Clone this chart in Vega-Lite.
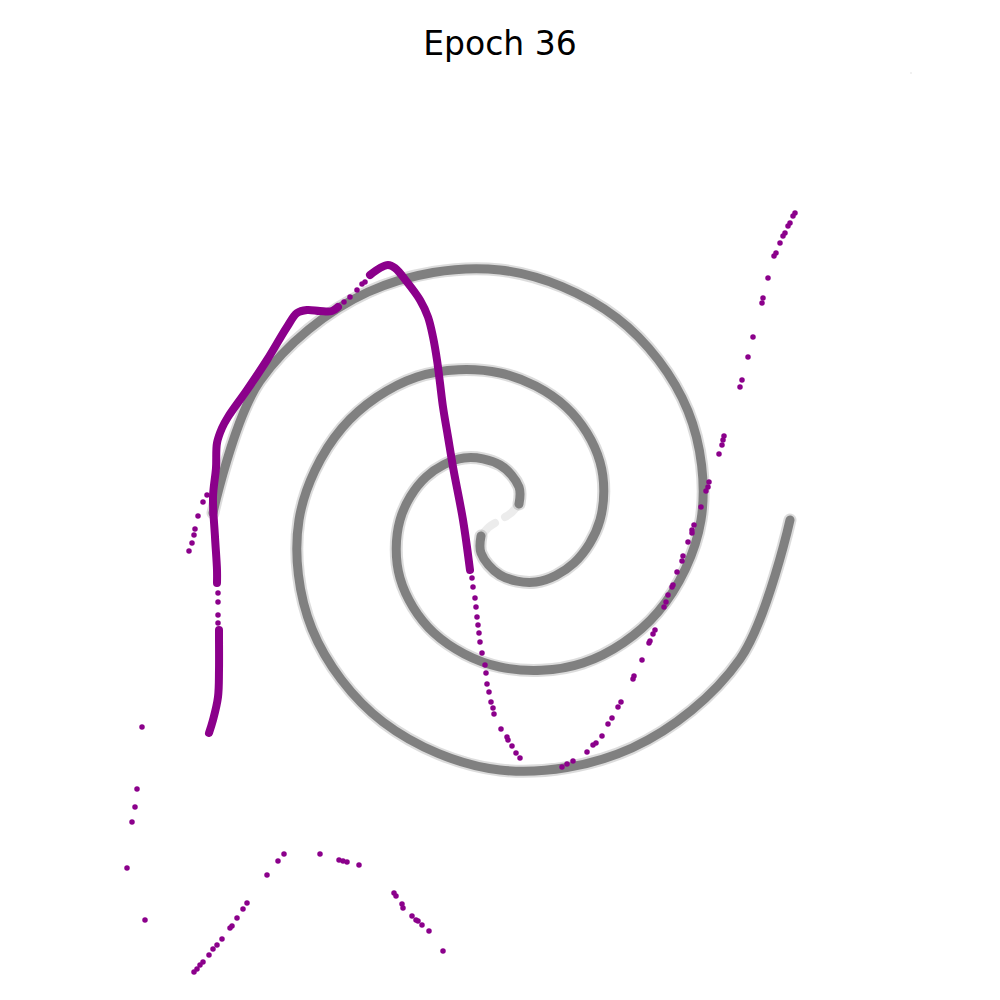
{
  "$schema": "https://vega.github.io/schema/vega-lite/v6.json",
  "width": 1000,
  "height": 1000,
  "padding": 0,
  "autosize": {"type": "none"},
  "background": "white",
  "config": {"view": {"stroke": null}},
  "title": {"text": "Epoch 36", "font": "DejaVu Sans", "fontSize": 33, "fontWeight": "normal", "color": "black", "anchor": "middle", "frame": "group", "baseline": "alphabetic", "offset": -56, "dy": 32},
  "datasets": {
    "spiral": [
      {"arm": 1, "i": 0, "x": 2.90, "y": -0.20}, {"arm": 1, "i": 1, "x": 2.40, "y": -1.59}, {"arm": 1, "i": 2, "x": 1.32, "y": -2.48},
      {"arm": 1, "i": 3, "x": 0.00, "y": -2.70}, {"arm": 1, "i": 4, "x": -1.17, "y": -2.22}, {"arm": 1, "i": 5, "x": -1.88, "y": -1.29},
      {"arm": 1, "i": 6, "x": -2.01, "y": -0.20}, {"arm": 1, "i": 7, "x": -1.58, "y": 0.72}, {"arm": 1, "i": 8, "x": -0.83, "y": 1.23},
      {"arm": 1, "i": 9, "x": 0.00, "y": 1.27}, {"arm": 1, "i": 10, "x": 0.66, "y": 0.93}, {"arm": 1, "i": 11, "x": 1.00, "y": 0.38},
      {"arm": 1, "i": 12, "x": 1.00, "y": -0.20}, {"arm": 1, "i": 13, "x": 0.74, "y": -0.63}, {"arm": 1, "i": 14, "x": 0.36, "y": -0.82},
      {"arm": 1, "i": 15, "x": 0.00, "y": -0.75}, {"arm": 1, "i": 16, "x": -0.19, "y": -0.53}, {"arm": 1, "i": 17, "x": -0.19, "y": -0.36},
      {"arm": 2, "i": 0, "x": -2.87, "y": -0.13}, {"arm": 2, "i": 1, "x": -2.40, "y": 1.19}, {"arm": 2, "i": 2, "x": -1.32, "y": 2.08},
      {"arm": 2, "i": 3, "x": 0.00, "y": 2.30}, {"arm": 2, "i": 4, "x": 1.17, "y": 1.82}, {"arm": 2, "i": 5, "x": 1.88, "y": 0.89},
      {"arm": 2, "i": 6, "x": 2.01, "y": -0.20}, {"arm": 2, "i": 7, "x": 1.58, "y": -1.12}, {"arm": 2, "i": 8, "x": 0.83, "y": -1.63},
      {"arm": 2, "i": 9, "x": 0.00, "y": -1.67}, {"arm": 2, "i": 10, "x": -0.66, "y": -1.33}, {"arm": 2, "i": 11, "x": -1.00, "y": -0.78},
      {"arm": 2, "i": 12, "x": -1.00, "y": -0.20}, {"arm": 2, "i": 13, "x": -0.74, "y": 0.23}, {"arm": 2, "i": 14, "x": -0.36, "y": 0.42},
      {"arm": 2, "i": 15, "x": 0.00, "y": 0.35}, {"arm": 2, "i": 16, "x": 0.19, "y": 0.13}, {"arm": 2, "i": 17, "x": 0.19, "y": -0.04}
    ],
    "spiralFaint": [
      {"arm": 1, "i": 0, "x": -0.19, "y": -0.36}, {"arm": 1, "i": 1, "x": -0.11, "y": -0.27}, {"arm": 1, "i": 2, "x": -0.05, "y": -0.23},
      {"arm": 2, "i": 0, "x": 0.19, "y": -0.04}, {"arm": 2, "i": 1, "x": 0.11, "y": -0.13}, {"arm": 2, "i": 2, "x": 0.05, "y": -0.17}
    ],
    "stray": [{"x": 4.11, "y": 4.27}],
    "dense": [
      {"seg": "a1", "i": 0, "x": -2.91, "y": -2.33}, {"seg": "a1", "i": 1, "x": -2.87, "y": -2.20}, {"seg": "a1", "i": 2, "x": -2.82, "y": -1.97},
      {"seg": "a1", "i": 3, "x": -2.81, "y": -1.70}, {"seg": "a1", "i": 4, "x": -2.81, "y": -1.37}, {"seg": "a1", "i": 5, "x": -2.81, "y": -1.30},
      {"seg": "a2", "i": 0, "x": -2.83, "y": -0.83}, {"seg": "a2", "i": 1, "x": -2.83, "y": -0.70}, {"seg": "a2", "i": 2, "x": -2.85, "y": -0.37},
      {"seg": "a2", "i": 3, "x": -2.87, "y": 0.03}, {"seg": "a2", "i": 4, "x": -2.84, "y": 0.32}, {"seg": "a2", "i": 5, "x": -2.83, "y": 0.57},
      {"seg": "a2", "i": 6, "x": -2.78, "y": 0.72}, {"seg": "a2", "i": 7, "x": -2.72, "y": 0.83}, {"seg": "a2", "i": 8, "x": -2.53, "y": 1.10},
      {"seg": "a2", "i": 9, "x": -2.33, "y": 1.40}, {"seg": "a2", "i": 10, "x": -2.13, "y": 1.73}, {"seg": "a2", "i": 11, "x": -2.03, "y": 1.87},
      {"seg": "a2", "i": 12, "x": -1.93, "y": 1.90}, {"seg": "a2", "i": 13, "x": -1.80, "y": 1.89}, {"seg": "a2", "i": 14, "x": -1.68, "y": 1.89},
      {"seg": "a2", "i": 15, "x": -1.62, "y": 1.93},
      {"seg": "a3", "i": 0, "x": -1.30, "y": 2.25}, {"seg": "a3", "i": 1, "x": -1.20, "y": 2.32}, {"seg": "a3", "i": 2, "x": -1.12, "y": 2.35},
      {"seg": "a3", "i": 3, "x": -1.05, "y": 2.32}, {"seg": "a3", "i": 4, "x": -0.93, "y": 2.18}, {"seg": "a3", "i": 5, "x": -0.80, "y": 2.00},
      {"seg": "a3", "i": 6, "x": -0.72, "y": 1.83}, {"seg": "a3", "i": 7, "x": -0.67, "y": 1.63}, {"seg": "a3", "i": 8, "x": -0.63, "y": 1.40},
      {"seg": "a3", "i": 9, "x": -0.60, "y": 1.17}, {"seg": "a3", "i": 10, "x": -0.57, "y": 0.93}, {"seg": "a3", "i": 11, "x": -0.52, "y": 0.63},
      {"seg": "a3", "i": 12, "x": -0.47, "y": 0.33}, {"seg": "a3", "i": 13, "x": -0.37, "y": -0.20}, {"seg": "a3", "i": 14, "x": -0.30, "y": -0.70}
    ],
    "dots": [
      {"x": -2.82, "y": -1.23}, {"x": -2.82, "y": -1.15}, {"x": -2.82, "y": -1.02}, {"x": -2.82, "y": -0.93},
      {"x": -1.56, "y": 1.98}, {"x": -1.50, "y": 2.03}, {"x": -1.43, "y": 2.10}, {"x": -1.38, "y": 2.16}, {"x": -1.35, "y": 2.18},
      {"x": -0.28, "y": -0.78}, {"x": -0.27, "y": -0.87}, {"x": -0.25, "y": -0.98}, {"x": -0.24, "y": -1.07}, {"x": -0.23, "y": -1.17},
      {"x": -0.22, "y": -1.25}, {"x": -0.21, "y": -1.33}, {"x": -0.20, "y": -1.42}, {"x": -0.18, "y": -1.53}, {"x": -0.15, "y": -1.65},
      {"x": -0.14, "y": -1.73}, {"x": -0.13, "y": -1.84}, {"x": -0.11, "y": -1.92}, {"x": -0.09, "y": -2.02}, {"x": -0.07, "y": -2.08},
      {"x": -0.06, "y": -2.14}, {"x": 0.01, "y": -2.29}, {"x": 0.07, "y": -2.37}, {"x": 0.08, "y": -2.40}, {"x": 0.12, "y": -2.46},
      {"x": 0.16, "y": -2.53}, {"x": 0.20, "y": -2.58},
      {"x": -2.93, "y": 0.05}, {"x": -2.97, "y": -0.02}, {"x": -3.02, "y": -0.16}, {"x": -3.05, "y": -0.29}, {"x": -3.06, "y": -0.35},
      {"x": -3.08, "y": -0.43}, {"x": -3.11, "y": -0.51},
      {"x": -3.58, "y": -2.27}, {"x": -3.63, "y": -2.89}, {"x": -3.65, "y": -3.07}, {"x": -3.68, "y": -3.22}, {"x": -3.73, "y": -3.68},
      {"x": -3.55, "y": -4.20},
      {"x": -2.16, "y": -3.54}, {"x": -2.22, "y": -3.61}, {"x": -2.33, "y": -3.75}, {"x": -2.53, "y": -4.03}, {"x": -2.57, "y": -4.09},
      {"x": -2.63, "y": -4.18}, {"x": -2.68, "y": -4.26}, {"x": -2.70, "y": -4.28}, {"x": -2.78, "y": -4.39}, {"x": -2.83, "y": -4.45},
      {"x": -2.87, "y": -4.49}, {"x": -2.91, "y": -4.55}, {"x": -2.97, "y": -4.62}, {"x": -3.00, "y": -4.65}, {"x": -3.03, "y": -4.69},
      {"x": -3.06, "y": -4.72},
      {"x": -1.80, "y": -3.54}, {"x": -1.61, "y": -3.60}, {"x": -1.57, "y": -3.61}, {"x": -1.53, "y": -3.62}, {"x": -1.41, "y": -3.65},
      {"x": -1.06, "y": -3.93}, {"x": -1.04, "y": -3.96}, {"x": -0.98, "y": -4.04}, {"x": -0.97, "y": -4.08}, {"x": -0.88, "y": -4.16},
      {"x": -0.84, "y": -4.20}, {"x": -0.82, "y": -4.21}, {"x": -0.78, "y": -4.25}, {"x": -0.71, "y": -4.31}, {"x": -0.57, "y": -4.51},
      {"x": 2.95, "y": 2.87}, {"x": 2.93, "y": 2.84}, {"x": 2.90, "y": 2.77}, {"x": 2.88, "y": 2.74}, {"x": 2.85, "y": 2.67},
      {"x": 2.83, "y": 2.64}, {"x": 2.80, "y": 2.57}, {"x": 2.76, "y": 2.47}, {"x": 2.74, "y": 2.44}, {"x": 2.68, "y": 2.22},
      {"x": 2.63, "y": 2.02}, {"x": 2.62, "y": 1.97}, {"x": 2.53, "y": 1.63}, {"x": 2.48, "y": 1.43}, {"x": 2.42, "y": 1.20},
      {"x": 2.40, "y": 1.13}, {"x": 2.24, "y": 0.64}, {"x": 2.23, "y": 0.60}, {"x": 2.22, "y": 0.55}, {"x": 2.19, "y": 0.46},
      {"x": 2.09, "y": 0.18}, {"x": 2.08, "y": 0.13}, {"x": 2.06, "y": 0.09}, {"x": 2.01, "y": -0.07}, {"x": 1.94, "y": -0.25},
      {"x": 1.92, "y": -0.30}, {"x": 1.92, "y": -0.33}, {"x": 1.88, "y": -0.42}, {"x": 1.83, "y": -0.56}, {"x": 1.82, "y": -0.61},
      {"x": 1.77, "y": -0.72}, {"x": 1.73, "y": -0.85}, {"x": 1.72, "y": -0.87}, {"x": 1.68, "y": -0.95}, {"x": 1.66, "y": -1.02},
      {"x": 1.64, "y": -1.07}, {"x": 1.55, "y": -1.30}, {"x": 1.53, "y": -1.34}, {"x": 1.50, "y": -1.41}, {"x": 1.49, "y": -1.43},
      {"x": 1.42, "y": -1.60}, {"x": 1.34, "y": -1.76}, {"x": 1.33, "y": -1.79}, {"x": 1.21, "y": -2.02}, {"x": 1.18, "y": -2.07},
      {"x": 1.12, "y": -2.18}, {"x": 1.08, "y": -2.24}, {"x": 1.02, "y": -2.36}, {"x": 0.96, "y": -2.43}, {"x": 0.93, "y": -2.45},
      {"x": 0.87, "y": -2.52}, {"x": 0.73, "y": -2.61}, {"x": 0.67, "y": -2.64}, {"x": 0.62, "y": -2.67}
    ]
  },
  "encoding": {
    "x": {"field": "x", "type": "quantitative", "scale": {"domain": [-5, 5], "nice": false, "zero": false}, "axis": null},
    "y": {"field": "y", "type": "quantitative", "scale": {"domain": [-5, 5], "nice": false, "zero": false}, "axis": null}
  },
  "layer": [
    {
      "data": {"name": "spiral"},
      "mark": {"type": "line", "interpolate": "catmull-rom", "color": "#8a8a8a", "strokeWidth": 13, "opacity": 0.3, "strokeCap": "round", "strokeJoin": "round"},
      "encoding": {"detail": {"field": "arm"}, "order": {"field": "i", "type": "quantitative"}}
    },
    {
      "data": {"name": "spiral"},
      "mark": {"type": "line", "interpolate": "catmull-rom", "color": "#808080", "strokeWidth": 9, "strokeCap": "round", "strokeJoin": "round"},
      "encoding": {"detail": {"field": "arm"}, "order": {"field": "i", "type": "quantitative"}}
    },
    {
      "data": {"name": "spiralFaint"},
      "mark": {"type": "line", "interpolate": "catmull-rom", "color": "#808080", "strokeWidth": 8, "opacity": 0.15, "strokeCap": "round"},
      "encoding": {"detail": {"field": "arm"}, "order": {"field": "i", "type": "quantitative"}}
    },
    {
      "data": {"name": "stray"},
      "mark": {"type": "circle", "color": "#808080", "size": 4, "opacity": 0.15}
    },
    {
      "data": {"name": "dense"},
      "mark": {"type": "line", "interpolate": "catmull-rom", "color": "#8b008b", "strokeWidth": 8, "strokeCap": "round", "strokeJoin": "round"},
      "encoding": {"detail": {"field": "seg"}, "order": {"field": "i", "type": "quantitative"}}
    },
    {
      "data": {"name": "dots"},
      "mark": {"type": "circle", "color": "#8b008b", "size": 30, "opacity": 1}
    }
  ]
}
